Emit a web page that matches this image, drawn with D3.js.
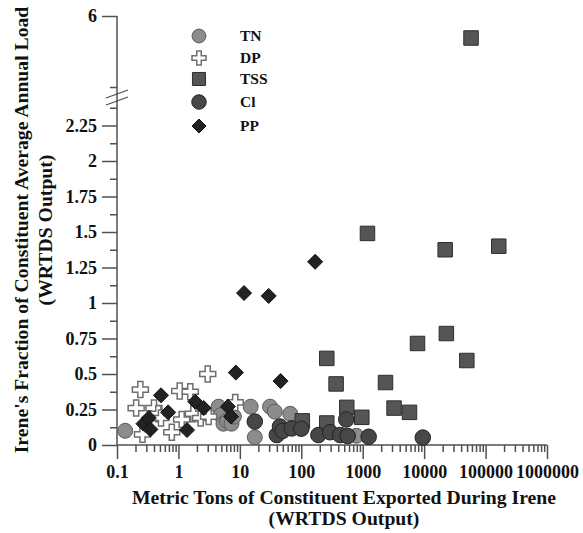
<!DOCTYPE html>
<html><head><meta charset="utf-8">
<script src="https://cdn.jsdelivr.net/npm/d3@7"></script>
<style>body{margin:0;background:#fff}svg{display:block}</style>
</head><body>
<svg id="chart" width="583" height="533"></svg>
<script>
// ---- data ----
const seriesNames = ["TN", "DP", "TSS", "Cl", "PP"];
const TN = [[0.136,0.10],[4.5,0.27],[4.9,0.21],[5.4,0.15],[6.2,0.17],[7.3,0.15],[8.0,0.20],[15,0.27],[17.5,0.055],[31,0.27],[37,0.235],[66,0.22],[790,0.065]];
const DP = [[0.24,0.39],[1.05,0.38],[1.56,0.375],[3.0,0.50],[0.205,0.26],[0.40,0.26],[0.47,0.22],[0.52,0.19],[1.13,0.18],[1.75,0.22],[2.3,0.19],[3.1,0.20],[0.78,0.09],[0.26,0.075],[8.4,0.30]];
const TSS = [[104,0.17],[260,0.155],[260,0.61],[369,0.43],[550,0.265],[966,0.195],[1195,1.49],[2350,0.44],[3240,0.26],[5770,0.23],[7800,0.715],[22000,1.375],[23000,0.785],[49500,0.595],[164000,1.40],[58000,5.845]];
const Cl = [[17.5,0.165],[40,0.07],[45,0.13],[50,0.10],[70,0.117],[100,0.115],[190,0.07],[295,0.09],[430,0.07],[540,0.18],[570,0.063],[1250,0.058],[9500,0.052]];
const PP = [[0.27,0.15],[0.33,0.19],[0.35,0.11],[0.52,0.35],[0.68,0.23],[1.38,0.105],[1.88,0.305],[2.58,0.26],[6.4,0.27],[7.2,0.20],[8.6,0.51],[46,0.45],[11.7,1.07],[29.5,1.05],[168,1.29]];
const xTicks = [0.1, 1, 10, 100, 1000, 10000, 100000, 1000000];
const yTicksLow = [0, 0.25, 0.5, 0.75, 1, 1.25, 1.5, 1.75, 2, 2.25];
const yTicksHigh = [6];

const svg = d3.select("#chart");
const font = "'Liberation Serif','Times New Roman',serif";
const axisCol = "#505050";

const x = d3.scaleLog().domain([0.1, 1e6]).range([117, 547]);
const yLow = d3.scaleLinear().domain([0, 2.25]).range([445, 125.5]);
const yHigh = d3.scaleLinear().domain([5.5, 6]).range([87, 16]);
const yv = v => v > 4 ? yHigh(v) : yLow(v);

// ---- axes ----
svg.append("line").attr("x1",117).attr("x2",117).attr("y1",yHigh(6)).attr("y2",yLow(0))
  .attr("stroke",axisCol).attr("stroke-width",1.5);
function styleAxis(g){
  g.select(".domain").remove();
  g.selectAll("line").attr("stroke",axisCol).attr("stroke-width",1.5);
  g.selectAll("text").attr("font-family",font).attr("font-weight","bold").attr("font-size",18).attr("fill","#111");
}
const yAxL = svg.append("g").attr("transform","translate(117,0)")
  .call(d3.axisLeft(yLow).tickValues(yTicksLow).tickSize(15).tickPadding(5).tickFormat(d=>String(d)));
styleAxis(yAxL);
const yMinor = d3.range(0.125, 2.4, 0.25);
const yAxLm = svg.append("g").attr("transform","translate(117,0)")
  .call(d3.axisLeft(yLow).tickValues(yMinor).tickSize(7).tickFormat(""));
styleAxis(yAxLm);
const yAxH = svg.append("g").attr("transform","translate(117,0)")
  .call(d3.axisLeft(yHigh).tickValues(yTicksHigh).tickSize(15).tickPadding(5).tickFormat(d=>String(d)));
styleAxis(yAxH);
const yAxHm = svg.append("g").attr("transform","translate(117,0)")
  .call(d3.axisLeft(yHigh).tickValues([5.5]).tickSize(7).tickFormat(""));
styleAxis(yAxHm);
// break marks
[0,7].forEach(o=>{
  svg.append("line").attr("x1",106).attr("y1",98+o).attr("x2",128).attr("y2",90+o)
    .attr("stroke",axisCol).attr("stroke-width",1.3);
});

// x axis
svg.append("line").attr("x1",117).attr("x2",547).attr("y1",445).attr("y2",445)
  .attr("stroke",axisCol).attr("stroke-width",1.5);
const xAx = svg.append("g").attr("transform","translate(0,445)")
  .call(d3.axisBottom(x).tickValues(xTicks).tickSize(14).tickPadding(6).tickFormat(d=>d<1?String(d):d3.format("d")(d)));
styleAxis(xAx);
const xMinor = [];
xTicks.slice(0,-1).forEach(t=>{ for(let k=2;k<=9;k++) xMinor.push(t*k); });
const xAxm = svg.append("g").attr("transform","translate(0,445)")
  .call(d3.axisBottom(x).tickValues(xMinor).tickSize(7).tickFormat(""));
styleAxis(xAxm);

// ---- titles ----
const xt = svg.append("text").attr("font-family",font).attr("font-weight","bold").attr("font-size",19.7)
  .attr("text-anchor","middle").attr("fill","#111");
xt.append("tspan").attr("x",344).attr("y",504).text("Metric Tons of Constituent Exported During Irene");
xt.append("tspan").attr("x",344).attr("y",525).text("(WRTDS Output)");
const yt = svg.append("text").attr("font-family",font).attr("font-weight","bold").attr("font-size",19.7)
  .attr("text-anchor","middle").attr("fill","#111").attr("transform","rotate(-90)");
yt.append("tspan").attr("x",-230).attr("y",28).text("Irene's Fraction of Constituent Average Annual Load");
yt.append("tspan").attr("x",-230).attr("y",52).text("(WRTDS Output)");

// ---- markers ----
// thin plus sign: total width L, arm thickness w (size = L)
const thinCross = {
  draw(ctx, size){
    const L = size/2, w = size*0.16;
    ctx.moveTo(-w,-L); ctx.lineTo(w,-L); ctx.lineTo(w,-w); ctx.lineTo(L,-w); ctx.lineTo(L,w);
    ctx.lineTo(w,w); ctx.lineTo(w,L); ctx.lineTo(-w,L); ctx.lineTo(-w,w); ctx.lineTo(-L,w);
    ctx.lineTo(-L,-w); ctx.lineTo(-w,-w); ctx.closePath();
  }
};
const rotSquare = {
  draw(ctx, size){ // size = half-diagonal
    const r = size;
    ctx.moveTo(0,-r); ctx.lineTo(r,0); ctx.lineTo(0,r); ctx.lineTo(-r,0); ctx.closePath();
  }
};
const styles = {
  TN:{fill:"#8c8c8c",stroke:"#5a5a5a",sym:d3.symbolCircle,size:175},
  DP:{fill:"#ffffff",stroke:"#6e6e6e",sym:thinCross,size:16},
  TSS:{fill:"#555555",stroke:"#2e2e2e",sym:d3.symbolSquare,size:210},
  Cl:{fill:"#474747",stroke:"#222222",sym:d3.symbolCircle,size:190},
  PP:{fill:"#222222",stroke:"#111111",sym:rotSquare,size:7.5}
};
const data = {TN, DP, TSS, Cl, PP};
const order = ["TN","DP","TSS","Cl","PP"];
order.forEach(name=>{
  const s = styles[name];
  const gen = d3.symbol().type(s.sym).size(s.size);
  svg.append("g").selectAll("path").data(data[name]).join("path")
    .attr("d", gen)
    .attr("transform", d=>`translate(${x(d[0])},${yv(d[1])})`)
    .attr("fill", s.fill).attr("stroke", s.stroke).attr("stroke-width", name==="DP"?1.5:1);
});

// ---- legend ----
const legY = [36, 58, 79, 102, 126];
const legSize = {TN:150, DP:14, TSS:170, Cl:165, PP:7};
seriesNames.forEach((name,i)=>{
  const s = styles[name];
  svg.append("path").attr("d", d3.symbol().type(s.sym).size(legSize[name])())
    .attr("transform",`translate(199,${legY[i]})`)
    .attr("fill", s.fill).attr("stroke", s.stroke).attr("stroke-width", name==="DP"?1.5:1);
  svg.append("text").attr("x",240).attr("y",legY[i]).attr("dy","0.35em")
    .attr("font-family",font).attr("font-weight","bold").attr("font-size",15.5).attr("fill","#111")
    .text(name);
});
</script>
</body></html>
